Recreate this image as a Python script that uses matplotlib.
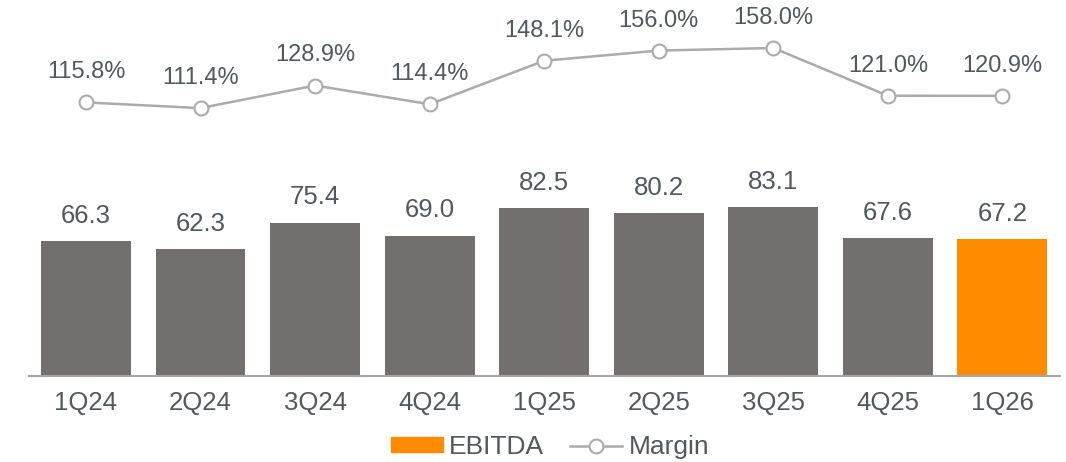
import matplotlib
matplotlib.use("Agg")
import matplotlib.pyplot as plt
from matplotlib.patches import Patch
from matplotlib.lines import Line2D

plt.rcParams['font.family'] = ['Liberation Sans', 'DejaVu Sans']

quarters = ["1Q24", "2Q24", "3Q24", "4Q24", "1Q25", "2Q25", "3Q25", "4Q25", "1Q26"]
ebitda = [66.3, 62.3, 75.4, 69.0, 82.5, 80.2, 83.1, 67.6, 67.2]
margin = [115.8, 111.4, 128.9, 114.4, 148.1, 156.0, 158.0, 121.0, 120.9]

GRAY = "#736F6E"
ORANGE = "#FF8C00"
LINE = "#ABABAB"
TEXT = "#52585E"

fig = plt.figure(figsize=(10.66, 4.62), dpi=100)
ax = fig.add_axes([28.7/1066, 1-376/462, 1031/1066, 376/462])
x = list(range(len(quarters)))
colors = [GRAY]*(len(quarters)-1) + [ORANGE]
ax.bar(x, ebitda, width=0.785, color=colors, zorder=2)
ax.set_xlim(-0.5, len(quarters)-0.5)
ax.set_ylim(0, 184.7)
for s in ["top", "right", "left"]:
    ax.spines[s].set_visible(False)
ax.spines["bottom"].set_color("#A6A6A6")
ax.spines["bottom"].set_linewidth(1.5)
ax.set_yticks([])
ax.set_xticks(x)
ax.set_xticklabels(quarters, fontsize=18.5, color=TEXT)
ax.tick_params(axis='x', length=0, pad=11)
for xi, v in zip(x, ebitda):
    ax.annotate(f"{v:.1f}", (xi, v), xytext=(0, 13), textcoords="offset points",
                ha="center", va="baseline", fontsize=18.5, color=TEXT)

ax2 = ax.twinx()
ax2.set_ylim(-96.3, 195.2)
ax2.plot(x, margin, color=LINE, lw=1.8, marker="o", ms=10, mfc="white",
         mec=LINE, mew=1.5, zorder=3)
for xi, v in zip(x, margin):
    ax2.annotate(f"{v:.1f}%", (xi, v), xytext=(0, 17.3), textcoords="offset points",
                 ha="center", va="baseline", fontsize=17, color=TEXT)
ax2.axis("off")

handles = [Patch(color=ORANGE),
           Line2D([], [], color=LINE, lw=1.8, marker="o", ms=10, mfc="white", mec=LINE, mew=1.5)]
fig.legend(handles, ["EBITDA", "Margin"], loc="center", bbox_to_anchor=(550/1066, 1-447/462),
           ncol=2, frameon=False, fontsize=19, labelcolor=TEXT, handlelength=1.97,
           handleheight=0.5, handletextpad=0.23, columnspacing=1.0, borderpad=0)

fig.savefig("out.png", dpi=100)
